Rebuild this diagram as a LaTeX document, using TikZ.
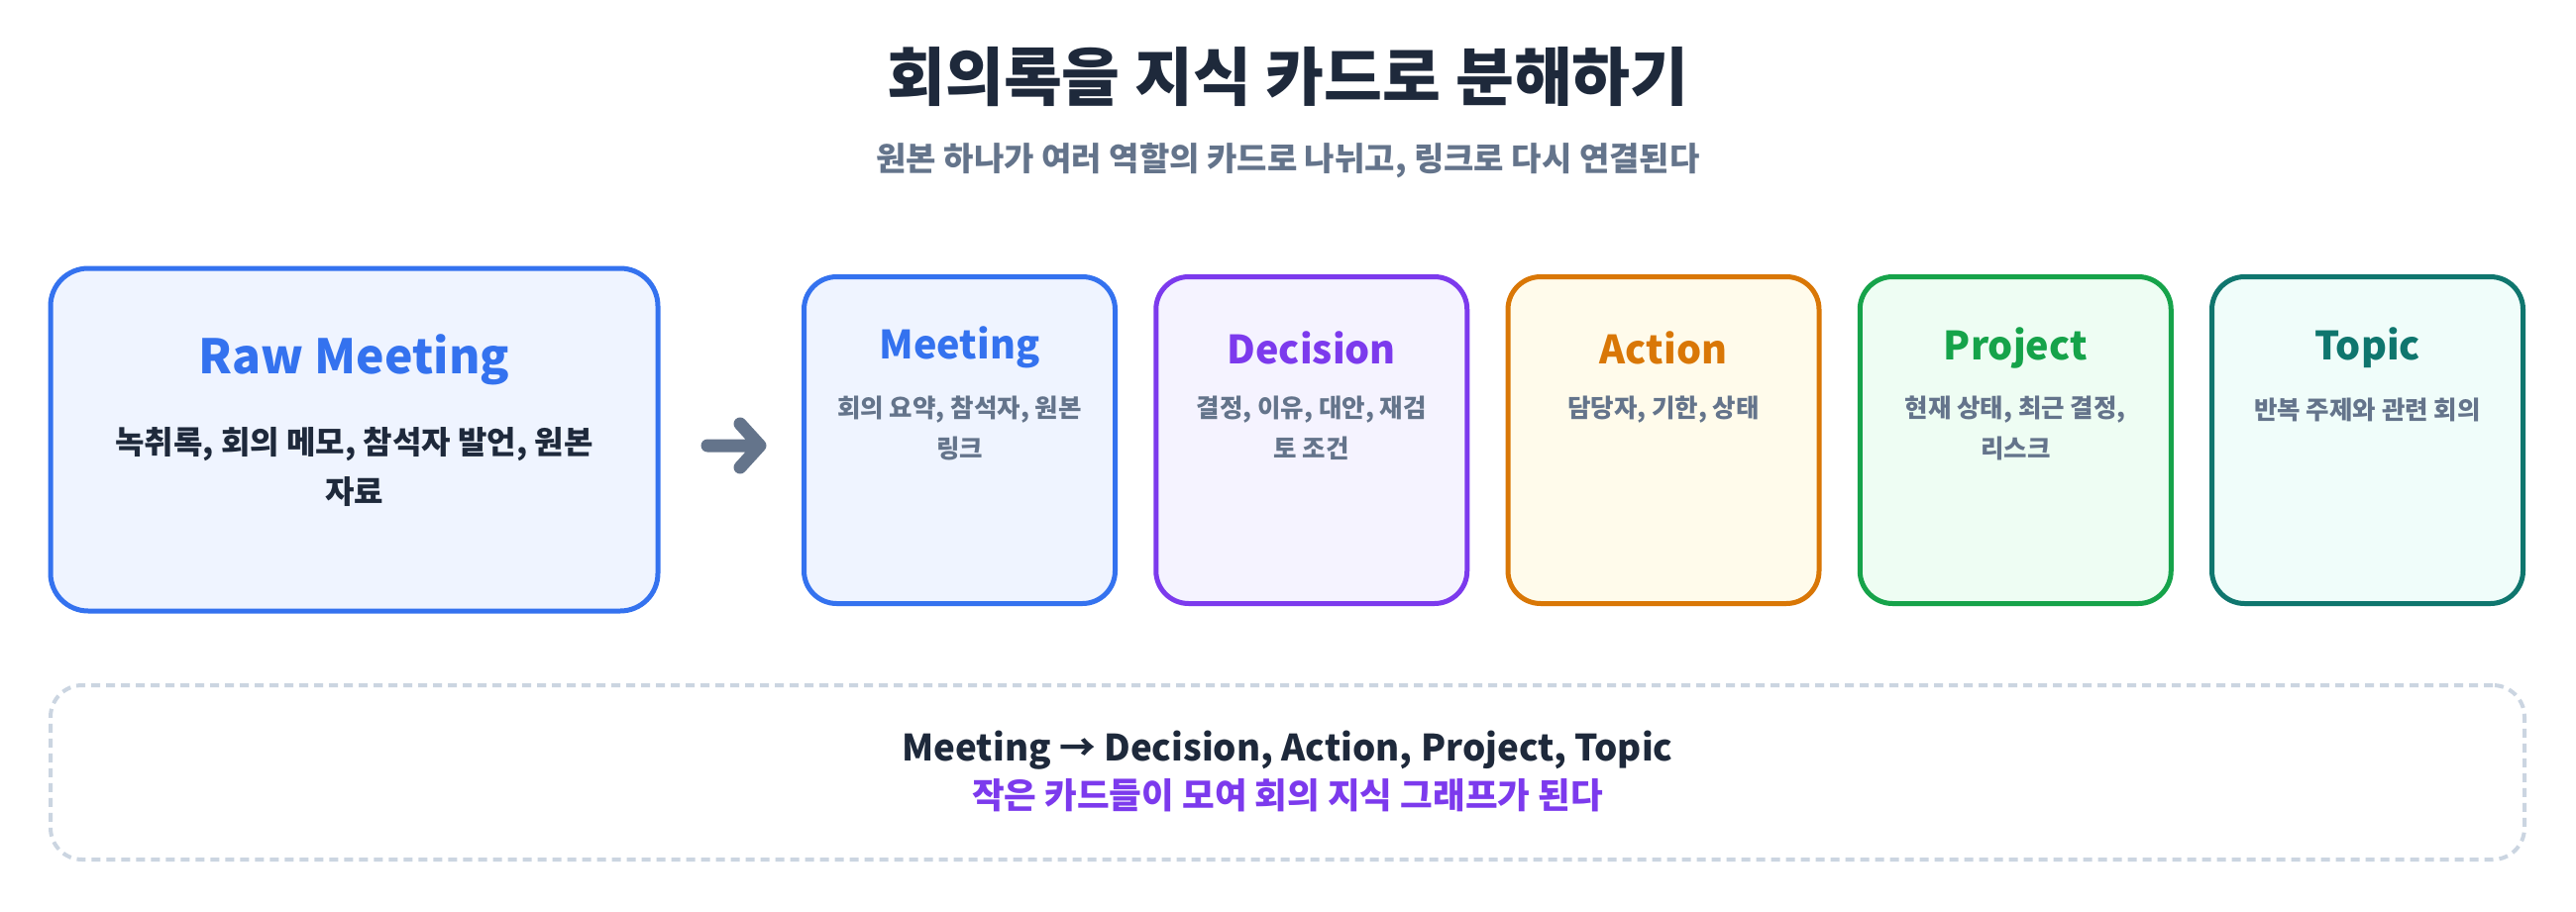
\documentclass[tikz,border=0pt]{standalone}
\usepackage{fontspec}
\setmainfont{Noto Sans CJK KR}
\definecolor{cdark}{HTML}{1E293B}
\definecolor{cgray}{HTML}{64748B}
\definecolor{cblue}{HTML}{3472EF}
\definecolor{fblue}{HTML}{EFF4FF}
\definecolor{cpurple}{HTML}{7C3AED}
\definecolor{fpurple}{HTML}{F5F3FF}
\definecolor{corange}{HTML}{D97706}
\definecolor{forange}{HTML}{FFFBEB}
\definecolor{cgreen}{HTML}{16A34A}
\definecolor{fgreen}{HTML}{EEFDF3}
\definecolor{cteal}{HTML}{0F766E}
\definecolor{fteal}{HTML}{F0FDFA}
\definecolor{cdash}{HTML}{CBD5E1}
\begin{document}
\begin{tikzpicture}[x=1pt,y=-1pt,
  card/.style={draw, line width=5pt, rounded corners=33pt, minimum width=314pt, minimum height=330pt, inner sep=0pt},
  cardtitle/.style={inner sep=0pt, font=\bfseries\fontsize{39.5}{46}\selectfont},
  carddesc/.style={inner sep=0pt, text=cgray, font=\bfseries\fontsize{25.5}{30}\selectfont},
  rawdesc/.style={inner sep=0pt, text=cdark, font=\bfseries\fontsize{32}{38}\selectfont}]
\useasboundingbox[fill=white] (0,0) rectangle (2600,921);

% title
\node[inner sep=0pt, text=cdark, font=\bfseries\fontsize{64}{74}\selectfont] (title) at (1300,78) {회의록을 지식 카드로 분해하기};
\node[inner sep=0pt, text=cgray, font=\bfseries\fontsize{33}{38}\selectfont] (subtitle) at (1300,162) {원본 하나가 여러 역할의 카드로 나뉘고, 링크로 다시 연결된다};

% raw meeting
\node[draw=cblue, fill=fblue, line width=5pt, rounded corners=38pt, minimum width=613pt, minimum height=346pt, inner sep=0pt] (raw) at (357.5,444) {};
\node[inner sep=0pt, text=cblue, font=\bfseries\fontsize{48}{56}\selectfont] (rawt) at (357.5,363) {Raw Meeting};
\node[rawdesc] (rawd1) at (357.5,449) {녹취록, 회의 메모, 참석자 발언, 원본};
\node[rawdesc] (rawd2) at (357.5,497) {자료};

% arrow
\coordinate (a1) at (714,450);
\coordinate (a2) at (767,450);
\coordinate (h1) at (747,428);
\coordinate (h2) at (747,472);
\draw[cgray, line width=13pt, line cap=round, line join=round] (a1) -- (a2) (h1) -- (a2) -- (h2);

% cards
\foreach \n/\c/\f/\t [count=\i from 0] in {meeting/cblue/fblue/Meeting, decision/cpurple/fpurple/Decision, action/corange/forange/Action, project/cgreen/fgreen/Project, topic/cteal/fteal/Topic}{
  \node[card, draw=\c, fill=\f] (\n) at ({968.5+\i*355.25},444.5) {};
  \node[cardtitle, text=\c] (\n-t) at ({968.5+\i*355.25},351) {\t};
}
\node[carddesc] (meeting-d1) at (968.5,414) {회의 요약, 참석자, 원본};
\node[carddesc] (meeting-d2) at (968.5,453) {링크};
\node[carddesc] (decision-d1) at (1323.75,414) {결정, 이유, 대안, 재검};
\node[carddesc] (decision-d2) at (1323.75,453) {토 조건};
\node[carddesc] (action-d1) at (1679,414) {담당자, 기한, 상태};
\node[carddesc] (project-d1) at (2034.25,414) {현재 상태, 최근 결정,};
\node[carddesc] (project-d2) at (2034.25,453) {리스크};
\node[carddesc] (topic-d1) at (2389.5,414) {반복 주제와 관련 회의};

% bottom dashed box
\node[draw=cdash, line width=4pt, dash pattern=on 9pt off 6pt, rounded corners=32pt, minimum width=2497pt, minimum height=176pt, inner sep=0pt] (summary) at (1299.5,780) {};
\node[inner sep=0pt, text=cdark, font=\bfseries\fontsize{36.7}{42}\selectfont] (sum1) at (1299.5,758) {Meeting → Decision, Action, Project, Topic};
\node[inner sep=0pt, text=cpurple, font=\bfseries\fontsize{35.5}{42}\selectfont] (sum2) at (1299.5,803) {작은 카드들이 모여 회의 지식 그래프가 된다};
\end{tikzpicture}
\end{document}
